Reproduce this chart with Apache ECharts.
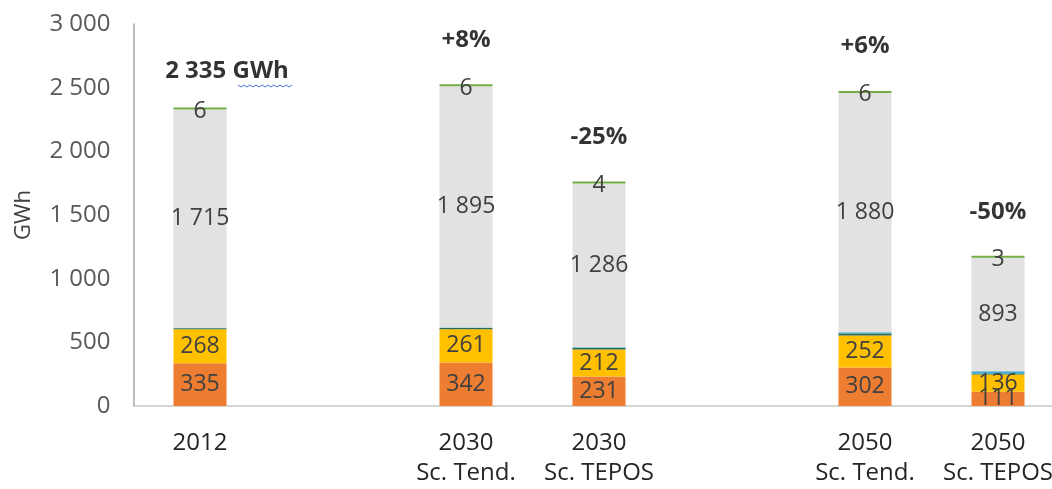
<!DOCTYPE html>
<html>
<head>
<meta charset="utf-8">
<script src="https://cdn.jsdelivr.net/npm/echarts@6/dist/echarts.min.js"></script>
<style>
  html, body { margin: 0; padding: 0; background: #ffffff; overflow: hidden; }
  #chart { width: 1070px; height: 489px; }
</style>
</head>
<body>
<div id="chart"></div>
<script>
// Electricity consumption by scenario (GWh), stacked by component
const categories = ['2012', '', '2030\nSc. Tend.', '2030\nSc. TEPOS', '', '2050\nSc. Tend.', '2050\nSc. TEPOS'];
const seriesOrange = [335, '-', 342, 231, '-', 302, 111];
const seriesYellow = [268, '-', 261, 212, '-', 252, 136];
const seriesDark   = [7,   '-', 9,   13,  '-', 15,  7];
const seriesBlue   = [4,   '-', 5,   6,   '-', 10,  18];
const seriesGray   = [1715, '-', 1895, 1286, '-', 1880, 893];
const seriesGreen  = [6,   '-', 6,   4,   '-', 6,   3];
const yTicks = [0, 500, 1000, 1500, 2000, 2500, 3000];

const FONT = '"Open Sans", "Noto Sans", sans-serif';
const fmt = v => String(Math.round(v)).replace(/\B(?=(\d{3})+(?!\d))/g, ' ');

const stacks = [seriesOrange, seriesYellow, seriesDark, seriesBlue, seriesGray, seriesGreen];
const totals = categories.map((c, i) =>
  seriesOrange[i] === '-' ? '-' : stacks.reduce((s, arr) => s + arr[i], 0));
const base = totals[0];

function topText(i) {
  if (i === 0) return fmt(totals[0]) + ' GWh';
  const pct = Math.round((totals[i] / base - 1) * 100);
  return (pct > 0 ? '+' : '') + pct + '%';
}

function barSeries(name, data, color, showLabel, extra) {
  return Object.assign({
    name: name,
    type: 'bar',
    stack: 'total',
    data: data,
    barWidth: 53,
    itemStyle: { color: color },
    label: {
      show: showLabel,
      position: 'inside',
      color: '#404040',
      fontFamily: FONT,
      fontSize: 23,
      formatter: p => fmt(p.value)
    }
  }, extra || {});
}

const chart = echarts.init(document.getElementById('chart'), null, { renderer: 'canvas' });

chart.setOption({
  animation: false,
  backgroundColor: '#ffffff',
  grid: { left: 133.5, width: 931, top: 24, bottom: 83, containLabel: false },
  xAxis: {
    type: 'category',
    data: categories,
    axisLine: { lineStyle: { color: '#c8c8c8', width: 1.5 } },
    axisTick: { show: false },
    axisLabel: {
      interval: 0,
      margin: 22,
      color: '#262626',
      fontFamily: FONT,
      fontSize: 24,
      lineHeight: 30
    }
  },
  yAxis: {
    type: 'value',
    min: yTicks[0],
    max: yTicks[yTicks.length - 1],
    interval: 500,
    name: 'GWh',
    nameLocation: 'middle',
    nameGap: 99,
    nameRotate: 90,
    nameTextStyle: { color: '#404040', fontFamily: FONT, fontSize: 22 },
    axisLine: { show: true, lineStyle: { color: '#a6a6a6', width: 1.5 } },
    axisTick: { show: false },
    splitLine: { show: false },
    axisLabel: {
      margin: 23,
      color: '#595959',
      fontFamily: FONT,
      fontSize: 24,
      formatter: v => fmt(v)
    }
  },
  series: [
    barSeries('orange', seriesOrange, '#ed7d31', true),
    barSeries('yellow', seriesYellow, '#ffc000', true),
    barSeries('dark', seriesDark, '#2c6a50', false),
    barSeries('blue', seriesBlue, '#3fa7c7', false),
    barSeries('gray', seriesGray, '#e2e2e2', true),
    barSeries('green', seriesGreen, '#70ad47', true, {
      barMinHeight: 2,
      label: {
        show: true,
        position: 'inside',
        offset: [0, 3],
        color: '#404040',
        fontFamily: FONT,
        fontSize: 23,
        formatter: p => fmt(p.value)
      }
    }),
    {
      name: 'totals',
      type: 'scatter',
      data: totals,
      symbolSize: 1,
      itemStyle: { color: 'rgba(0,0,0,0)' },
      label: {
        show: true,
        position: 'top',
        distance: 33,
        color: '#000000',
        fontFamily: FONT,
        fontWeight: 'bold',
        fontSize: 24,
        formatter: p => topText(p.dataIndex)
      },
      labelLayout: p => (p.dataIndex === 0 ? { dx: 27, dy: 8 } : {})
    }
  ],
  graphic: [{
    type: 'polyline',
    shape: {
      points: (function () {
        const pts = [];
        for (let k = 0; k <= 18; k++) pts.push([238 + k * 3, 85 + (k % 2 ? 2 : 0)]);
        return pts;
      })()
    },
    style: { stroke: '#4a72d8', lineWidth: 1, fill: null },
    silent: true
  }]
});
</script>
</body>
</html>
